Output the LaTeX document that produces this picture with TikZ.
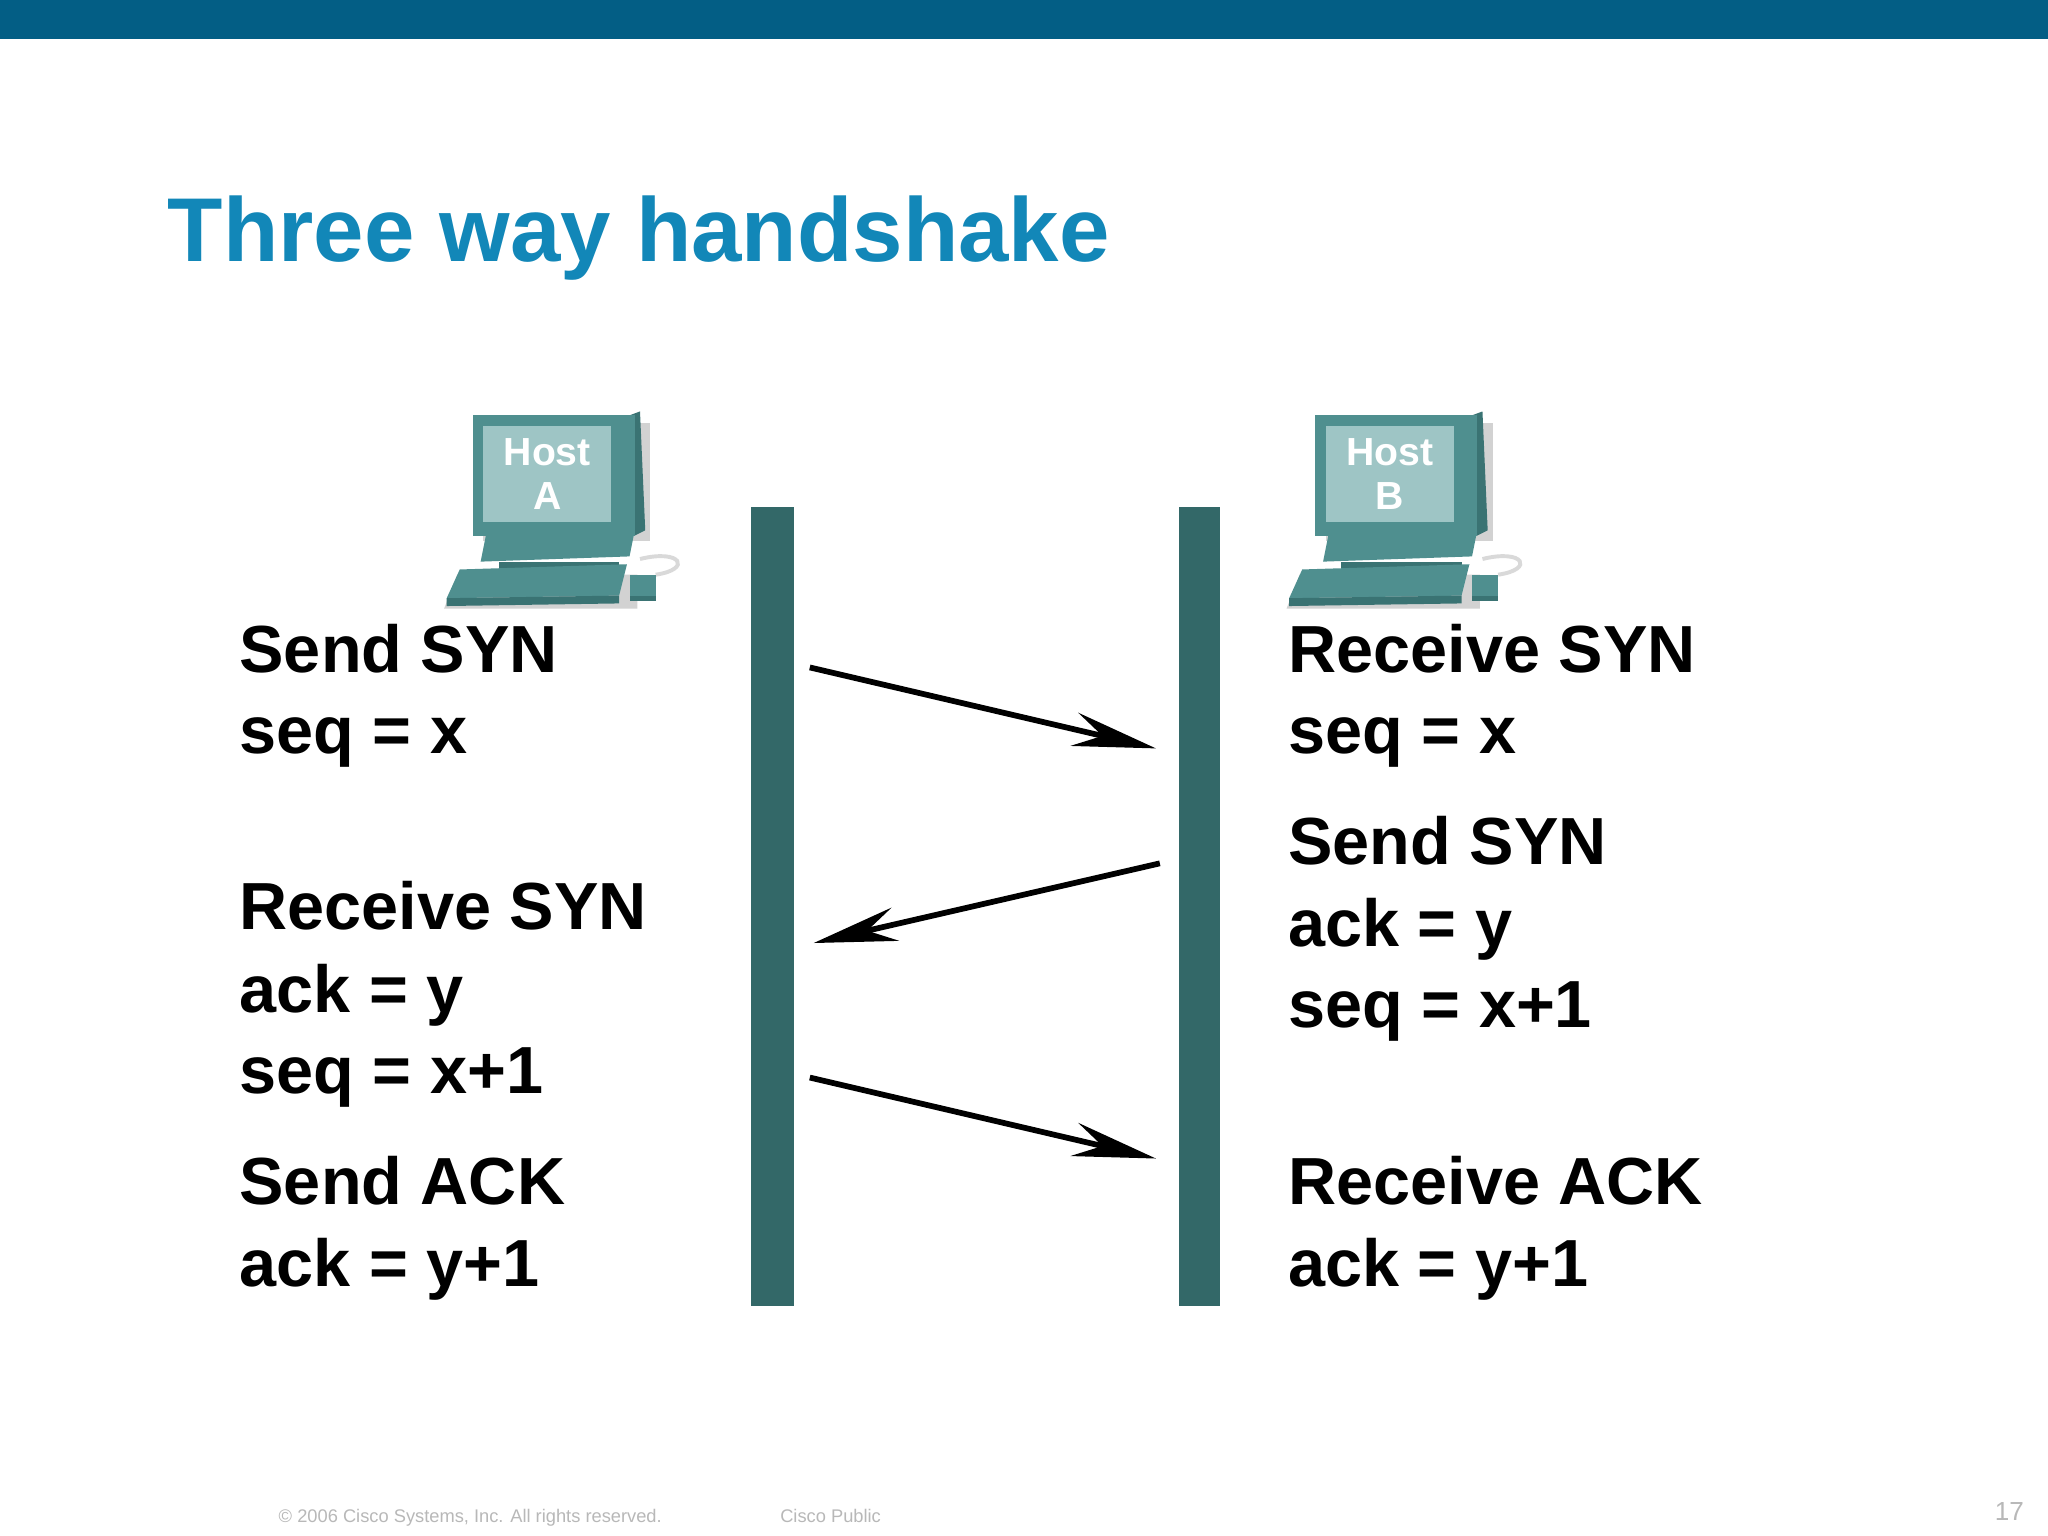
\documentclass[tikz,border=0pt]{standalone}
\usepackage{fontspec}
\setmainfont{Liberation Sans}
\usetikzlibrary{arrows.meta}
\definecolor{bar}{HTML}{035E85}
\definecolor{ttl}{HTML}{1287B8}
\definecolor{wall}{HTML}{336868}
\definecolor{mon}{HTML}{4F8F8F}
\definecolor{mondk}{HTML}{3A7373}
\definecolor{scr}{HTML}{9EC5C5}
\definecolor{foot}{HTML}{B8B8B8}
\tikzset{
  lbl/.style={anchor=base west,font=\fontsize{25.5}{30}\selectfont\bfseries,inner sep=0pt},
  msg/.style={line width=2.2pt,-{Stealth[length=32pt,width=13pt,inset=11pt]}},
  wallst/.style={fill=wall,draw=none},
  host/.pic={
    \fill[gray!35] (8,6) rectangle (136,96);
    \fill[gray!35] (-12,122) -- (126,122) -- (126,148) -- (-22,148) -- cycle;
    \fill[mondk] (120,0) -- (128,-3) -- (132,88) -- (124,92) -- cycle;
    \fill[mon] (0,0) rectangle (124,92);
    \fill[scr] (8,8) rectangle (106,82);
    \node[text=white,font=\fontsize{15}{17}\selectfont\bfseries,align=center,inner sep=0pt] at (57,45) {Host\\\tikzpictext};
    \fill[mon] (10,92) -- (124,88) -- (120,108) -- (6,112) -- cycle;
    \fill[mondk] (20,112) rectangle (112,120);
    \fill[mon] (-10,118) -- (118,114) -- (112,138) -- (-20,140) -- cycle;
    \fill[mondk] (-20,140) -- (112,138) -- (112,144) -- (-20,146) -- cycle;
    \draw[gray!30,line width=1.5pt] (128,110) .. controls (160,102) and (168,118) .. (140,122);
    \fill[mon] (120,122) rectangle (140,138);
    \fill[mondk] (120,138) rectangle (140,142);
  },
}
\begin{document}
\begin{tikzpicture}[x=0.5pt,y=-0.5pt]
\useasboundingbox (0,0) rectangle (1568,1176);
\fill[white] (0,0) rectangle (1568,1176);
\fill[bar] (0,0) rectangle (1568,30);
\node[anchor=base west,inner sep=0pt,text=ttl,font=\fontsize{34.7}{40}\selectfont\bfseries] (title) at (128,200) {Three way handshake};

\pic[pic text=A] (hostA) at (362,318) {host};
\pic[pic text=B] (hostB) at (1007,318) {host};

\fill[wallst] (575,388) rectangle (608,1000);
\fill[wallst] (903,388) rectangle (934,1000);

\node[lbl] (a1) at (183,515) {Send SYN};
\node[lbl] (a1b) at (183,577) {seq = x};
\node[lbl] (a2) at (183,712) {Receive SYN};
\node[lbl] (a2b) at (183,775) {ack = y};
\node[lbl] (a2c) at (183,837) {seq = x+1};
\node[lbl] (a3) at (183,922) {Send ACK};
\node[lbl] (a3b) at (183,985) {ack = y+1};
\node[lbl] (b1) at (986,515) {Receive SYN};
\node[lbl] (b1b) at (986,577) {seq = x};
\node[lbl] (b2) at (986,662) {Send SYN};
\node[lbl] (b2b) at (986,725) {ack = y};
\node[lbl] (b2c) at (986,787) {seq = x+1};
\node[lbl] (b3) at (986,922) {Receive ACK};
\node[lbl] (b3b) at (986,985) {ack = y+1};

\coordinate (s1) at (620,511); \coordinate (e1) at (885,573);
\coordinate (s2) at (888,661); \coordinate (e2) at (623,722);
\coordinate (s3) at (620,825); \coordinate (e3) at (885,887);
\draw[msg] (s1) -- (e1);
\draw[msg] (s2) -- (e2);
\draw[msg] (s3) -- (e3);

\node[anchor=base west,inner sep=0pt,text=foot,font=\fontsize{7}{8}\selectfont] (c1) at (213,1166) {© 2006 Cisco Systems, Inc. All rights reserved.};
\node[anchor=base west,inner sep=0pt,text=foot,font=\fontsize{7}{8}\selectfont] (c2) at (597,1166) {Cisco Public};
\node[anchor=base east,inner sep=0pt,text=foot,font=\fontsize{10}{12}\selectfont] (pg) at (1550,1164) {17};
\end{tikzpicture}
\end{document}
